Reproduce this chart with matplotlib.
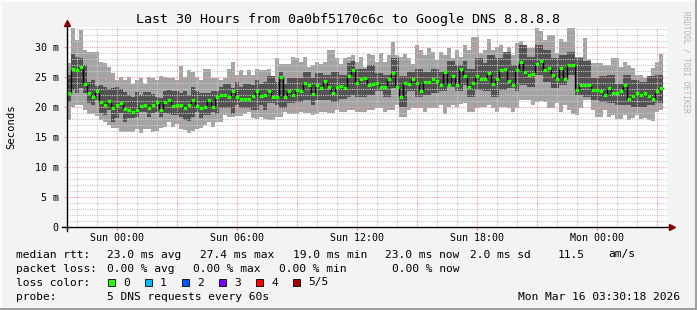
import numpy as np
import matplotlib
matplotlib.use('Agg')
import matplotlib.pyplot as plt
from matplotlib.patches import Rectangle

# 12-minute steps starting Sat 21:30 (hours offset on x)
STEP_H = 0.2

median = [
    22.4, 26.4, 26.1, 26.7, 23.9, 22.4, 21.6, 22.7, 20.8, 20.3,
    21.0, 19.8, 20.4, 20.6, 19.7, 19.5, 19.2, 19.5, 20.2, 20.4,
    19.9, 20.3, 20.8, 19.5, 20.8, 21.1, 20.1, 20.3, 20.4, 19.9,
    20.4, 21.1, 20.2, 19.9, 20.0, 21.1, 20.0, 21.6, 22.0, 22.0,
    21.6, 22.7, 21.7, 21.3, 21.3, 21.3, 21.9, 22.7, 21.8, 22.0,
    22.7, 21.6, 21.7, 25.0, 21.6, 22.7, 22.0, 22.8, 22.7, 24.0,
    23.7, 22.2, 23.6, 23.1, 24.3, 23.3, 22.3, 23.3, 23.5, 23.1,
    25.1, 26.1, 24.0, 24.6, 24.8, 23.6, 23.8, 24.0, 23.4, 23.3,
    24.7, 25.6, 23.4, 21.7, 24.0, 23.9, 24.7, 24.0, 22.7, 24.2,
    24.2, 24.7, 24.4, 23.6, 25.9, 23.7, 25.1, 23.7, 26.3, 25.1,
    23.3, 24.0, 25.2, 24.7, 24.6, 25.6, 23.8, 24.7, 26.1, 26.3,
    24.3, 23.6, 26.2, 27.5, 25.9, 25.4, 25.5, 27.1, 27.6, 26.2,
    26.5, 25.4, 24.7, 26.5, 24.6, 27.0, 27.0, 22.9, 23.7, 23.7,
    23.7, 22.9, 22.9, 22.7, 22.0, 23.2, 22.3, 22.3, 22.6, 23.6,
    21.3, 21.9, 22.3, 22.0, 22.3, 21.9, 21.3, 22.7, 23.1,
]

ping_max = [
    27.3, 33.1, 31.2, 32.8, 29.5, 29.2, 29.2, 29.2, 27.5, 27.3,
    26.7, 25.6, 24.5, 25.0, 24.5, 25.0, 23.9, 24.5, 24.8, 23.9,
    25.0, 24.8, 24.5, 25.2, 25.0, 24.8, 24.8, 24.5, 26.9, 25.0,
    26.2, 25.9, 25.0, 24.5, 26.3, 26.3, 24.8, 24.8, 24.5, 24.8,
    26.3, 27.5, 25.3, 26.2, 25.3, 26.2, 25.3, 26.3, 26.2, 26.2,
    26.4, 25.1, 28.1, 27.1, 27.1, 27.1, 28.4, 28.1, 27.5, 28.4,
    26.7, 27.0, 27.5, 27.1, 27.5, 29.5, 29.5, 28.1, 27.1, 28.1,
    28.4, 28.6, 27.5, 28.4, 26.7, 28.8, 28.7, 27.5, 29.0, 27.5,
    28.7, 30.9, 28.6, 28.4, 28.8, 28.1, 27.1, 30.3, 29.5, 28.7,
    29.8, 29.2, 27.8, 29.2, 28.7, 29.8, 28.1, 29.5, 28.4, 30.3,
    29.5, 31.7, 31.7, 29.0, 29.5, 31.4, 29.5, 30.0, 30.3, 29.2,
    30.0, 28.7, 30.6, 31.0, 29.2, 29.8, 29.8, 33.1, 32.6, 31.2,
    32.0, 32.0, 29.0, 31.4, 30.9, 33.1, 33.1, 28.4, 28.4, 31.5,
    28.0, 27.3, 27.3, 27.3, 27.0, 27.0, 28.1, 28.1, 26.7, 27.5,
    27.0, 26.5, 25.3, 25.3, 24.8, 24.8, 26.5, 27.5, 28.9,
]

ping_hi = [
    25.3, 28.8, 28.4, 28.1, 27.0, 24.2, 24.5, 23.5, 23.7, 23.4,
    23.0, 23.2, 23.4, 23.0, 22.5, 22.0, 21.7, 22.5, 22.0, 22.5,
    22.5, 22.2, 21.7, 21.5, 22.7, 22.8, 22.6, 22.6, 22.3, 22.6,
    22.0, 23.4, 22.6, 22.3, 22.3, 22.3, 22.6, 22.6, 23.4, 23.9,
    23.9, 23.1, 24.2, 23.4, 23.9, 23.9, 23.7, 24.5, 23.9, 24.2,
    25.1, 25.1, 24.2, 25.9, 23.9, 24.8, 24.8, 24.8, 24.8, 25.9,
    25.9, 24.8, 25.6, 25.6, 25.3, 25.3, 25.9, 25.9, 25.3, 25.3,
    27.3, 27.6, 26.4, 26.4, 26.4, 27.0, 27.0, 25.6, 25.6, 25.3,
    25.3, 28.1, 28.1, 25.1, 25.1, 25.9, 25.9, 26.4, 26.4, 25.9,
    25.9, 26.4, 26.4, 25.9, 25.9, 27.6, 27.6, 27.0, 27.0, 27.6,
    26.4, 26.4, 28.1, 28.1, 27.3, 28.7, 28.7, 28.1, 28.1, 29.2,
    29.2, 27.0, 27.0, 30.3, 30.3, 28.4, 28.4, 30.3, 30.3, 29.5,
    29.5, 28.1, 28.1, 28.7, 28.7, 29.2, 29.2, 28.1, 28.1, 27.6,
    27.6, 24.8, 24.8, 25.1, 25.1, 25.3, 25.3, 23.9, 23.9, 25.3,
    25.3, 24.5, 24.5, 24.2, 24.2, 25.1, 25.1, 25.3, 25.3,
]

ping_lo = [
    20.9, 22.9, 22.4, 23.1, 22.4, 20.6, 20.3, 21.2, 19.0, 18.7,
    19.5, 17.5, 18.1, 19.0, 17.5, 18.1, 18.1, 18.4, 19.2, 19.2,
    18.4, 19.0, 19.2, 18.4, 19.0, 18.9, 18.7, 18.7, 18.4, 17.8,
    17.6, 18.4, 19.2, 18.1, 18.7, 18.7, 19.2, 18.9, 19.8, 19.8,
    19.8, 18.9, 20.3, 19.8, 19.8, 19.8, 19.5, 19.5, 20.3, 19.5,
    20.6, 20.6, 20.3, 19.8, 19.8, 20.6, 20.6, 20.9, 20.9, 21.2,
    21.2, 20.3, 21.2, 21.2, 21.2, 21.2, 20.9, 20.9, 21.4, 21.4,
    21.7, 22.0, 21.7, 21.7, 21.7, 22.0, 22.0, 22.6, 22.6, 21.7,
    21.7, 23.1, 23.1, 20.0, 20.0, 22.6, 22.6, 21.7, 21.7, 22.0,
    22.0, 22.3, 22.3, 22.6, 22.6, 23.4, 23.4, 22.6, 22.6, 23.7,
    21.7, 21.7, 22.8, 22.8, 22.6, 22.6, 21.7, 21.7, 22.8, 22.8,
    23.1, 23.1, 22.6, 23.7, 23.7, 23.4, 23.4, 25.3, 25.3, 24.2,
    24.2, 23.1, 23.1, 23.7, 23.7, 25.3, 25.3, 22.0, 22.0, 21.7,
    21.7, 21.2, 21.2, 20.9, 20.9, 20.6, 20.6, 20.3, 20.3, 20.3,
    20.3, 20.0, 20.0, 20.0, 20.0, 20.3, 20.3, 20.6, 20.6,
]

ping_min = [
    17.8, 20.0, 20.3, 20.3, 19.5, 18.8, 18.8, 18.5, 17.8, 17.5,
    17.0, 16.5, 16.5, 15.9, 15.9, 15.9, 15.9, 16.4, 15.7, 16.4,
    16.4, 15.9, 16.0, 16.5, 16.7, 17.5, 16.7, 17.2, 16.4, 16.2,
    15.7, 16.0, 16.4, 16.5, 17.0, 17.5, 16.7, 17.5, 17.5, 18.6,
    18.3, 18.3, 18.5, 18.5, 18.8, 19.2, 18.2, 18.0, 18.4, 18.0,
    17.8, 17.8, 18.4, 18.4, 19.2, 18.9, 18.9, 18.9, 19.2, 19.0,
    19.0, 18.7, 18.9, 19.2, 19.2, 19.0, 19.0, 19.5, 19.2, 19.2,
    19.5, 19.5, 19.2, 19.2, 19.2, 19.5, 19.5, 19.8, 19.8, 19.1,
    19.5, 19.5, 20.3, 18.4, 18.4, 19.5, 19.8, 19.8, 19.8, 19.1,
    19.8, 19.8, 19.8, 20.3, 18.9, 20.0, 20.3, 20.0, 20.5, 20.7,
    19.1, 19.1, 19.8, 20.0, 20.0, 20.3, 19.9, 19.1, 20.0, 20.0,
    19.8, 19.2, 19.8, 21.2, 21.2, 21.2, 20.3, 20.9, 21.0, 20.9,
    19.9, 19.9, 20.6, 19.1, 20.3, 19.5, 18.8, 18.7, 19.8, 21.2,
    21.2, 19.5, 18.4, 18.4, 19.5, 18.4, 18.7, 18.0, 18.0, 18.7,
    17.8, 18.1, 18.7, 18.0, 18.1, 17.8, 17.6, 19.1, 19.5,
]

xtick_pos = [2.5, 8.5, 14.5, 20.5, 26.5]
xtick_labels = ['Sun 00:00', 'Sun 06:00', 'Sun 12:00', 'Sun 18:00', 'Mon 00:00']
ytick_pos = [0, 5, 10, 15, 20, 25, 30]
ytick_labels = ['0', '5 m', '10 m', '15 m', '20 m', '25 m', '30 m']

rtt_stats = ['23.0 ms avg', '27.4 ms max', '19.0 ms min', '23.0 ms now',
             '2.0 ms sd', '11.5', 'am/s']
loss_stats = ['0.00 % avg', '0.00 % max', '0.00 % min', '0.00 % now']
loss_labels = ['0', '1', '2', '3', '4', '5/5']
loss_colors = ['#26ff00', '#00b8ff', '#0059ff', '#7e00ff', '#ff0000', '#a10000']

W, H = 697, 310
MONO = 'DejaVu Sans Mono'


def fx(px):
    return px / W


def fy(py):
    return 1 - py / H


fig = plt.figure(figsize=(W / 100, H / 100), dpi=100)
fig.patch.set_facecolor('#f3f3f3')

# 3D-ish frame around the canvas
fig.add_artist(Rectangle((0, 0), 1, 2 / H, transform=fig.transFigure, color='#a0a0a0', lw=0))
fig.add_artist(Rectangle((1 - 2 / W, 0), 2 / W, 1, transform=fig.transFigure, color='#a0a0a0', lw=0))
fig.add_artist(Rectangle((0, 1 - 2 / H), 1 - 2 / W, 2 / H, transform=fig.transFigure, color='#fcfcfc', lw=0))
fig.add_artist(Rectangle((0, 2 / H), 2 / W, 1 - 2 / H, transform=fig.transFigure, color='#fcfcfc', lw=0))

ax = fig.add_axes([fx(67), fy(227), 600 / W, 200 / H])
ax.set_facecolor('white')
ax.set_xlim(0, 30)
ax.set_ylim(0, 200 / 6)

n = len(median)
edges = np.arange(n + 1) * STEP_H


def ext(a):
    a = list(a)
    return a + [a[-1]]


ax.fill_between(edges, ext(ping_min), ext(ping_max), step='post', color='#a4a4a4', lw=0, zorder=1)
ax.fill_between(edges, ext(ping_lo), ext(ping_hi), step='post', color='#525252', lw=0, zorder=2)

# grid on top of the smoke
for h in np.arange(0.5, 30, 1.0):
    major = abs(((h - 2.5) / 3) - round((h - 2.5) / 3)) < 1e-6
    ax.axvline(h, color='#e8a0a0' if major else '#c8c8c8', lw=0.8,
               ls=(0, (1, 1)), zorder=3)
for v in range(1, 34):
    ax.axhline(v, color='#e8a0a0' if v % 5 == 0 else '#c8c8c8', lw=0.8,
               ls=(0, (1, 1)), zorder=3)

# median: black connectors + green loss-colored segments
ax.step(edges, ext(median), where='post', color='black', lw=1.0, zorder=4)
ax.hlines(median, edges[:-1], edges[1:], color=loss_colors[0], lw=2.3, zorder=5,
          capstyle='butt')

for s in ax.spines.values():
    s.set_visible(False)
ax.plot([-5 / 20, 30 + 5 / 20], [0, 0], color='black', lw=1, clip_on=False, zorder=6)
ax.plot([0, 0], [-4 / 6, 200 / 6 + 3 / 6], color='black', lw=1, clip_on=False, zorder=6)
ax.plot([30 + 5 / 20], [0], marker='>', color='#7f0000', ms=4, clip_on=False, zorder=7)
ax.plot([0], [200 / 6 + 4 / 6], marker='^', color='#7f0000', ms=4, clip_on=False, zorder=7)

ax.set_xticks(xtick_pos)
ax.set_xticklabels(xtick_labels, family=MONO, fontsize=7.2)
ax.set_yticks(ytick_pos)
ax.set_yticklabels(ytick_labels, family=MONO, fontsize=7.2)
ax.tick_params(axis='x', length=2, pad=2.5, color='#e8a0a0')
ax.tick_params(axis='y', length=2, pad=4, color='#e8a0a0')

fig.text(fx(348), fy(19), 'Last 30 Hours from 0a0bf5170c6c to Google DNS 8.8.8.8',
         family=MONO, fontsize=9.6, ha='center', va='center')
fig.text(fx(11), fy(127), 'Seconds', family=MONO, fontsize=7.6, rotation=90,
         ha='center', va='center')
fig.text(fx(686), fy(62), 'RRDTOOL / TOBI OETIKER', family=MONO, fontsize=5.6,
         rotation=-90, ha='center', va='center', color='#b4b4b4')

fs = 8.1
r1, r2, r3, r4 = 254.5, 268.5, 282.5, 296.5
fig.text(fx(16), fy(r1), 'median rtt:', family=MONO, fontsize=fs, va='center')
for x, s in zip([107, 200, 293, 385, 470, 558, 608], rtt_stats):
    fig.text(fx(x), fy(r1), s, family=MONO, fontsize=fs, va='center')
fig.text(fx(16), fy(r2), 'packet loss:', family=MONO, fontsize=fs, va='center')
for x, s in zip([107, 193, 279, 392], loss_stats):
    fig.text(fx(x), fy(r2), s, family=MONO, fontsize=fs, va='center')
fig.text(fx(16), fy(r3), 'loss color:', family=MONO, fontsize=fs, va='center')
for i, (lab, col) in enumerate(zip(loss_labels, loss_colors)):
    bx = 108 + i * 37
    fig.add_artist(Rectangle((fx(bx), fy(r3 + 3.5)), 7 / W, 7 / H,
                             transform=fig.transFigure, facecolor=col,
                             edgecolor='black', lw=0.6))
    fig.text(fx(bx + 15), fy(r3), lab, family=MONO, fontsize=fs, va='center')
fig.text(fx(16), fy(r4), 'probe:', family=MONO, fontsize=fs, va='center')
fig.text(fx(107), fy(r4), '5 DNS requests every 60s', family=MONO, fontsize=fs, va='center')
fig.text(fx(680), fy(r4), 'Mon Mar 16 03:30:18 2026', family=MONO, fontsize=fs,
         va='center', ha='right')

fig.savefig('out.png', dpi=100, facecolor=fig.get_facecolor())
